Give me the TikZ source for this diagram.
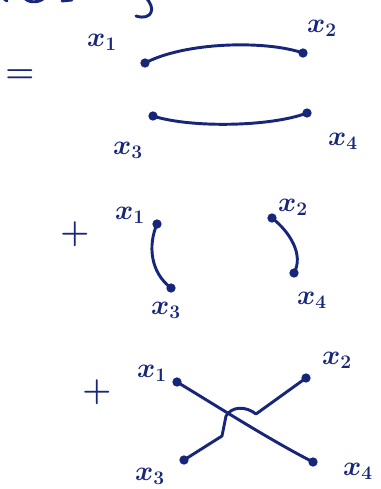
\documentclass[tikz,border=0pt]{standalone}
\usepackage{amsmath,amssymb}
\usetikzlibrary{positioning}

\definecolor{inkblue}{RGB}{24,38,122}

\begin{document}
\begin{tikzpicture}[
    x=0.75pt, y=-0.75pt,
    ink/.style={draw=inkblue, line width=2.2pt, line cap=round, line join=round},
    dot/.style={circle, fill=inkblue, inner sep=0pt, minimum size=7pt},
    lbl/.style={text=inkblue, font=\huge\boldmath, inner sep=1pt},
    sign/.style={text=inkblue, font=\Huge\boldmath, inner sep=1pt}
]
  \useasboundingbox (0,0) rectangle (380,489);
  \clip (0,0) rectangle (380,489);

  % Cut-off strokes along the top edge
  \draw[ink] (145,-3) .. controls (157,8) and (152,21) .. (136,16);
  \draw[ink] (24,-3) .. controls (27,3) and (38,3) .. (43,-1);
  \draw[ink] (62,1) -- (72,0);
  \draw[ink] (3,-2) -- (7,1);

  % First term: (x1 x2)(x3 x4)
  \node[sign] (eq) at (20,76) {$=$};
  \node[dot] (a1) at (145,63) {};
  \node[dot] (a2) at (303,53) {};
  \node[dot] (a3) at (153,116) {};
  \node[dot] (a4) at (307,113) {};
  \node[lbl] (la1) at (102,42) {$x_1$};
  \node[lbl] (la2) at (322,28) {$x_2$};
  \node[lbl] (la3) at (128,150) {$x_3$};
  \node[lbl] (la4) at (343,141) {$x_4$};
  \draw[ink] (a1.center) .. controls (185,42) and (265,40) .. (a2.center);
  \draw[ink] (a3.center) .. controls (190,128) and (270,127) .. (a4.center);

  % Second term: (x1 x3)(x2 x4)
  \node[sign] (plusb) at (75,234) {$+$};
  \node[dot] (b1) at (157,224) {};
  \node[dot] (b2) at (272,218) {};
  \node[dot] (b3) at (171,288) {};
  \node[dot] (b4) at (294,273) {};
  \node[lbl] (lb1) at (130,215) {$x_1$};
  \node[lbl] (lb2) at (293,207) {$x_2$};
  \node[lbl] (lb3) at (166,310) {$x_3$};
  \node[lbl] (lb4) at (312,300) {$x_4$};
  \draw[ink] (b1.center) .. controls (148,245) and (150,272) .. (b3.center);
  \draw[ink] (b2.center) .. controls (290,232) and (304,255) .. (b4.center);

  % Third term: (x1 x4)(x2 x3)
  \node[sign] (plusc) at (97,392) {$+$};
  \node[dot] (c1) at (177,382) {};
  \node[dot] (c2) at (306,378) {};
  \node[dot] (c3) at (184,460) {};
  \node[dot] (c4) at (313,462) {};
  \node[lbl] (lc1) at (152,373) {$x_1$};
  \node[lbl] (lc2) at (337,360) {$x_2$};
  \node[lbl] (lc3) at (150,476) {$x_3$};
  \node[lbl] (lc4) at (358,471) {$x_4$};
  \coordinate (kink) at (222,436);
  \coordinate (hopL) at (226,416);
  \coordinate (hopR) at (256,414);
  \draw[ink] (c1.center) .. controls (220,408) and (270,440) .. (c4.center);
  \draw[ink] (c3.center) -- (kink) -- (hopL)
     .. controls (232,406) and (246,406) .. (hopR) -- (c2.center);
\end{tikzpicture}
\end{document}
